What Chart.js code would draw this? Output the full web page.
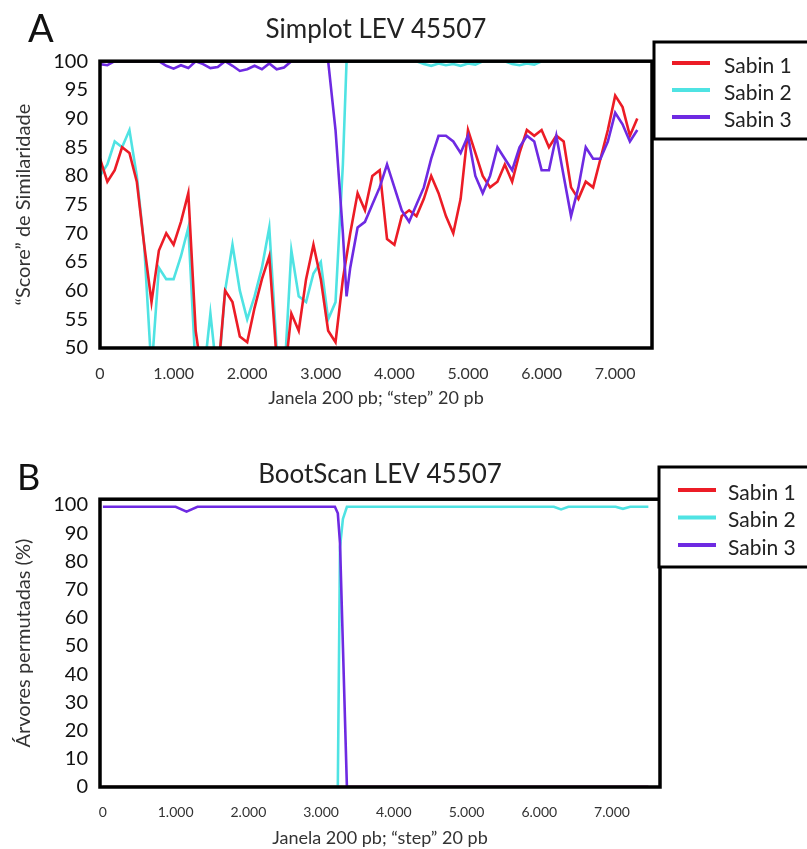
<!DOCTYPE html>
<html>
<head>
<meta charset="utf-8">
<script src="https://cdn.jsdelivr.net/npm/chart.js@4/dist/chart.umd.min.js"></script>
<style>
  html, body { margin: 0; padding: 0; background: #fff; }
  .panel { position: relative; width: 807px; }
  #panelA { height: 420px; }
  #panelB { height: 429px; }
</style>
</head>
<body>
<div class="panel" id="panelA"><canvas id="simplotChart"></canvas></div>
<div class="panel" id="panelB"><canvas id="bootscanChart"></canvas></div>
<script>
// Simplot: window positions (bp) and similarity scores
const simplotPositions = [
  0, 100, 200, 300, 400, 500, 600, 700, 800, 900,
  1000, 1100, 1200, 1300, 1400, 1500, 1600, 1700, 1800, 1900,
  2000, 2100, 2200, 2300, 2400, 2500, 2600, 2700, 2800, 2900,
  3000, 3100, 3200, 3300, 3350, 3400, 3500, 3600, 3700, 3800, 3900,
  4000, 4100, 4200, 4300, 4400, 4500, 4600, 4700, 4800, 4900,
  5000, 5100, 5200, 5300, 5400, 5500, 5600, 5700, 5800, 5900,
  6000, 6100, 6200, 6300, 6400, 6500, 6600, 6700, 6800, 6900,
  7000, 7100, 7200, 7300
];
const simplotSabin1 = [
  83, 79, 81, 85, 84, 79, 68, 58, 67, 70,
  68, 72, 77, 53, 44, 44, 45, 60, 58, 52,
  51, 57, 62, 66, 48, 44, 56, 53, 62, 68,
  62, 53, 51, 62, 66, 70, 77, 74, 80, 81, 69,
  68, 73, 74, 73, 76, 80, 77, 73, 70, 76,
  88, 84, 80, 78, 79, 82, 79, 84, 88, 87,
  88, 85, 87, 86, 78, 76, 79, 78, 83, 88,
  94, 92, 87, 90
];
const simplotSabin2 = [
  80, 82, 86, 85, 88, 80, 68, 46, 64, 62,
  62, 66, 71, 46, 44, 56, 44, 60, 68, 60,
  55, 59, 64, 71, 50, 44, 67, 59, 58, 63,
  65, 55, 58, 82, 100, 100, 100, 100, 100, 100, 100,
  100, 100, 100, 100, 99.5, 99.2, 99.6, 99.3, 99.5, 99.2,
  99.6, 99.4, 100, 100, 100, 100, 99.5, 99.3, 99.6, 99.4,
  100, 100, 100, 100, 100, 100, 100, 100, 100, 100,
  100, 100, 100, 100
];
const simplotSabin3 = [
  99.5, 99.3, 100, 100, 100, 100, 100, 100, 100, 99.2,
  98.7, 99.3, 98.8, 100, 99.5, 98.8, 99, 100, 99.2, 98.3,
  98.6, 99.2, 98.6, 99.6, 98.6, 98.9, 100, 100, 100, 100,
  100, 100, 88, 70, 59, 64, 71, 72, 75, 78, 82,
  78, 74, 72, 75, 78, 83, 87, 87, 86, 84,
  87, 80, 77, 80, 85, 83, 81, 85, 87, 86,
  81, 81, 87, 80, 73, 78, 85, 83, 83, 86,
  91, 89, 86, 88
];

// BootScan: permuted trees (%)
const bootPositions = [0, 1000, 1150, 1300, 3190, 3230, 3260, 3300, 3355, 4000, 6200, 6300, 6400, 7050, 7150, 7250, 7500];
const bootSabin1 = [0, 0, 0, 0, 0, 0, 0, 0, 0, 0, 0, 0, 0, 0, 0, 0, 0];
const bootSabin2 = [0, 0, 0, 0, 0, 0, 85, 95, 99.3, 99.3, 99.3, 98.4, 99.3, 99.3, 98.6, 99.3, 99.3];
const bootSabin3 = [99.3, 99.3, 97.6, 99.3, 99.3, 97, 86.5, 50, 0, 0, 0, 0, 0, 0, 0, 0, 0];

const seriesNames = ['Sabin 1', 'Sabin 2', 'Sabin 3'];
const xTicks = [0, 1000, 2000, 3000, 4000, 5000, 6000, 7000];
const simplotYTicks = [50, 55, 60, 65, 70, 75, 80, 85, 90, 95, 100];
const bootYTicks = [0, 10, 20, 30, 40, 50, 60, 70, 80, 90, 100];

const lineColors = ['#ec1c26', '#4fe3e3', '#6e2ae2'];
const drawOrder = [1, 2, 0];
const FONT = 'Lato, "Open Sans", sans-serif';

function pairs(xs, ys) {
  return xs.map((x, i) => ({ x: x, y: ys[i] }));
}

function thousands(v) {
  return String(v).replace(/\B(?=(\d{3})+(?!\d))/g, '.');
}

// frame round the plot, boxed legend and the panel letter
const panelDecor = {
  id: 'panelDecor',
  afterDatasetsDraw(chart, args, opts) {
    const ctx = chart.ctx;
    const a = chart.chartArea;
    ctx.save();
    ctx.strokeStyle = '#000';
    ctx.lineWidth = opts.frameWidth;
    ctx.strokeRect(a.left, a.top, a.right - a.left, a.bottom - a.top);

    const lg = opts.legend;
    const w = chart.width - lg.left + 10;
    ctx.fillStyle = '#fff';
    ctx.fillRect(lg.left, lg.top, w, lg.bottom - lg.top);
    ctx.lineWidth = 3;
    ctx.strokeRect(lg.left, lg.top, w, lg.bottom - lg.top);
    ctx.font = lg.fontSize + 'px ' + FONT;
    ctx.textBaseline = 'middle';
    ctx.textAlign = 'left';
    chart.data.datasets.forEach((ds, i) => {
      const y = lg.firstRow + i * lg.rowGap;
      ctx.strokeStyle = ds.borderColor;
      ctx.lineWidth = 4;
      ctx.beginPath();
      ctx.moveTo(lg.swatchX, y - 3);
      ctx.lineTo(lg.swatchX + 38, y - 3);
      ctx.stroke();
      ctx.fillStyle = '#222';
      ctx.fillText(ds.label, lg.textX, y);
    });

    ctx.font = opts.tagSize + 'px ' + FONT;
    ctx.textBaseline = 'alphabetic';
    ctx.fillStyle = '#111';
    ctx.fillText(opts.tag, opts.tagX, opts.tagY);
    ctx.restore();
  }
};

function makeDatasets(xs, series) {
  return series.map((ys, i) => ({
    label: seriesNames[i],
    data: pairs(xs, ys),
    borderColor: lineColors[i],
    backgroundColor: lineColors[i],
    borderWidth: 2.6,
    pointRadius: 0,
    tension: 0,
    fill: false,
    order: drawOrder[i]
  }));
}

function makeChart(canvasId, cfg) {
  const ctx = document.getElementById(canvasId).getContext('2d');
  return new Chart(ctx, {
    type: 'line',
    data: { datasets: makeDatasets(cfg.positions, cfg.series) },
    plugins: [panelDecor],
    options: {
      responsive: true,
      maintainAspectRatio: false,
      animation: false,
      layout: { padding: { left: 0, right: cfg.rightPad, top: 0, bottom: 0 } },
      plugins: {
        legend: { display: false },
        tooltip: { enabled: false },
        title: {
          display: true,
          text: cfg.title,
          fullSize: false,
          color: '#222',
          font: { family: FONT, size: 26, weight: 'normal' },
          padding: cfg.titlePad
        },
        panelDecor: cfg.decor
      },
      scales: {
        x: {
          type: 'linear',
          min: cfg.xMin,
          max: cfg.xMax,
          afterBuildTicks: (s) => { s.ticks = xTicks.map(v => ({ value: v })); },
          afterFit: (s) => { s.height = cfg.xHeight; },
          grid: { display: false, drawTicks: false },
          border: { display: false },
          ticks: {
            callback: (v) => thousands(v),
            color: '#333',
            font: { family: FONT, size: cfg.xTickSize },
            padding: cfg.xTickPad,
            maxRotation: 0,
            autoSkip: false
          },
          title: {
            display: true,
            text: 'Janela 200 pb; “step” 20 pb',
            color: '#333',
            font: { family: FONT, size: 18 },
            padding: { top: 0, bottom: cfg.xTitlePad }
          }
        },
        y: {
          min: cfg.yMin,
          max: cfg.yMax,
          afterBuildTicks: (s) => { s.ticks = cfg.yTicks.map(v => ({ value: v })); },
          afterFit: (s) => { s.width = 100; },
          grid: { display: false, drawTicks: false },
          border: { display: false },
          ticks: {
            color: '#111',
            font: { family: FONT, size: 20 },
            padding: 12
          },
          title: {
            display: true,
            text: cfg.yTitle,
            color: '#333',
            font: { family: FONT, size: 20 },
            padding: { top: 12, bottom: 0 }
          }
        }
      }
    }
  });
}

document.addEventListener('DOMContentLoaded', function() {
  // A: Simplot
  makeChart('simplotChart', {
    positions: simplotPositions,
    series: [simplotSabin1, simplotSabin2, simplotSabin3],
    title: 'Simplot LEV 45507',
    titlePad: { top: 14, bottom: 16 },
    yTitle: '“Score” de Similaridade',
    yTicks: simplotYTicks,
    yMin: 50, yMax: 100,
    xMin: 0, xMax: 7500,
    xHeight: 72, xTickSize: 16, xTickPad: 16, xTitlePad: 11,
    rightPad: 155,
    decor: {
      frameWidth: 3.5, tag: 'A', tagSize: 38, tagX: 28, tagY: 42,
      legend: { left: 654, top: 42, bottom: 139, swatchX: 672, textX: 724, firstRow: 66, rowGap: 27, fontSize: 21 }
    }
  });

  // B: BootScan
  makeChart('bootscanChart', {
    positions: bootPositions,
    series: [bootSabin1, bootSabin2, bootSabin3],
    title: 'BootScan LEV 45507',
    titlePad: { top: 39, bottom: 9 },
    yTitle: 'Árvores permutadas (%)',
    yTicks: bootYTicks,
    yMin: 0, yMax: 102,
    xMin: -40, xMax: 7660,
    xHeight: 62, xTickSize: 14, xTickPad: 17, xTitlePad: 0,
    rightPad: 147,
    decor: {
      frameWidth: 3.5, tag: 'B', tagSize: 36, tagX: 17, tagY: 70,
      legend: { left: 659, top: 47, bottom: 147, swatchX: 678, textX: 728, firstRow: 73, rowGap: 27.5, fontSize: 21 }
    }
  });
});
</script>
</body>
</html>
